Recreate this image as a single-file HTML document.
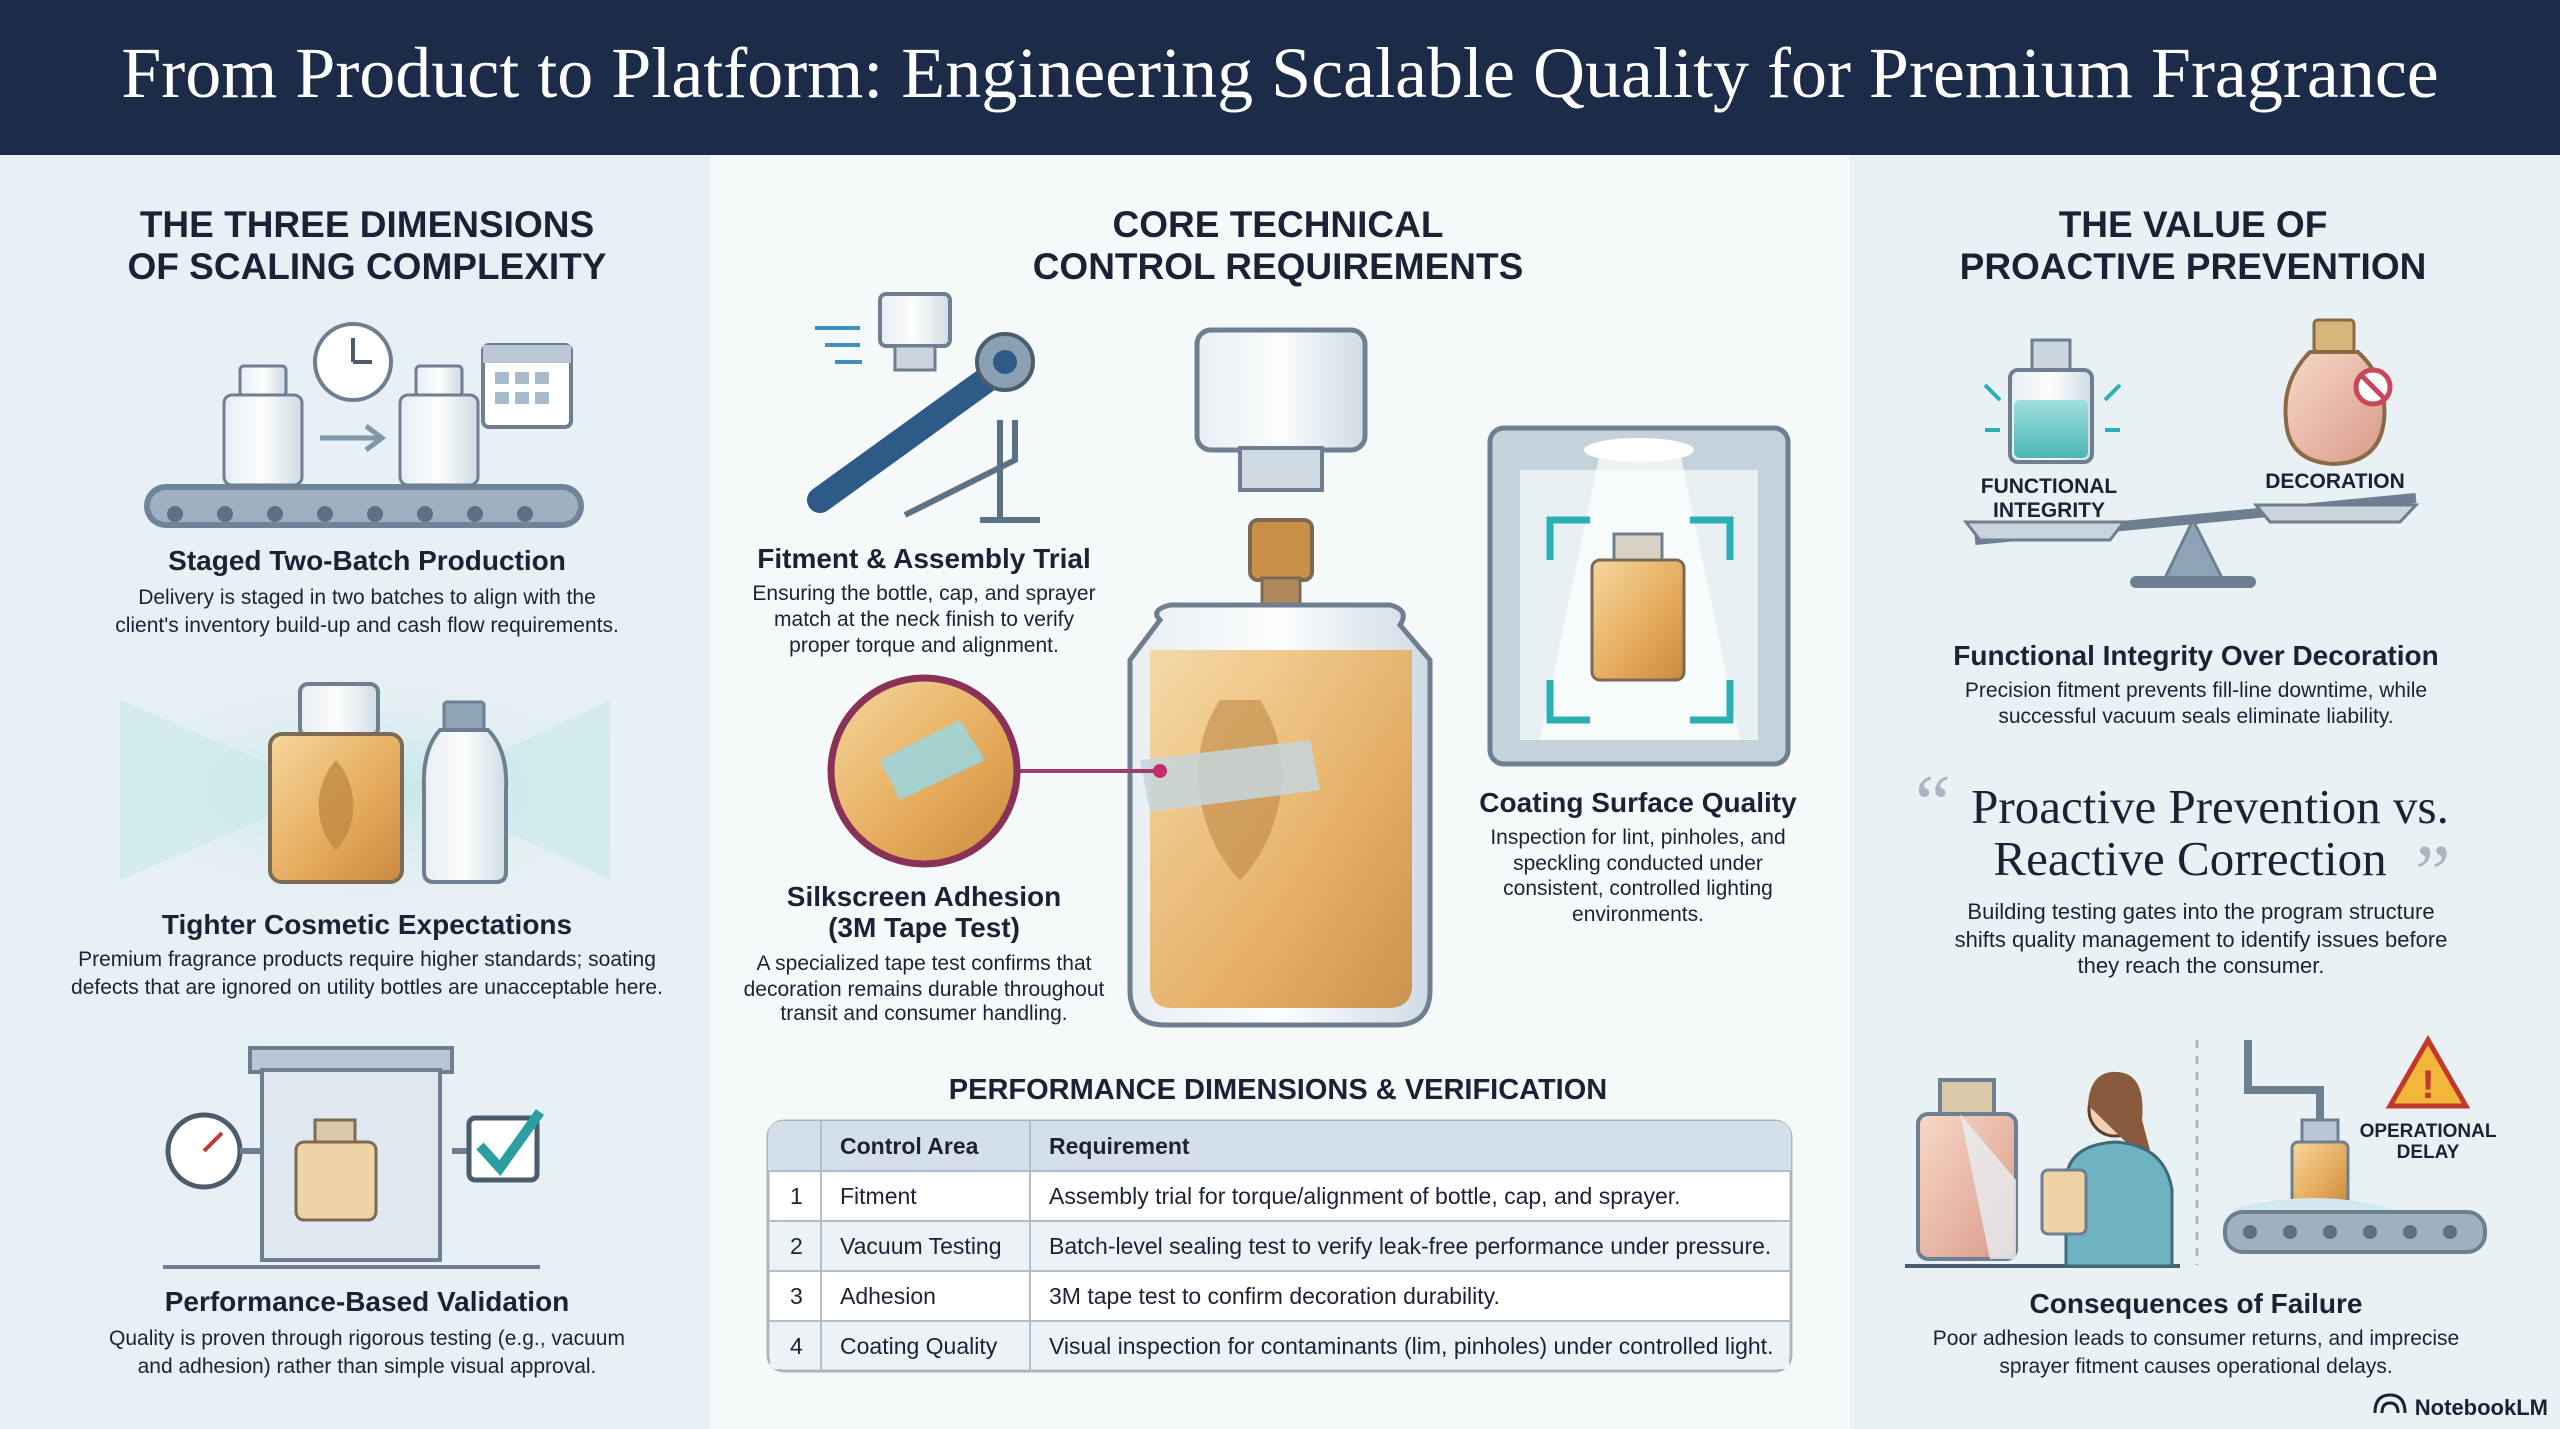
<!DOCTYPE html>
<html><head><meta charset="utf-8"><style>
html,body{margin:0;padding:0;width:2560px;height:1429px;overflow:hidden;background:#eef3f5}
svg{display:block}
.s{font-family:"Liberation Sans",sans-serif}
.r{font-family:"Liberation Serif",serif}
</style></head><body>
<svg width="2560" height="1429" viewBox="0 0 2560 1429" xmlns="http://www.w3.org/2000/svg">
<defs>
<linearGradient id="amb" x1="0" y1="0" x2="1" y2="1"><stop offset="0" stop-color="#f6d79c"/><stop offset="0.6" stop-color="#e4a95a"/><stop offset="1" stop-color="#c98a3e"/></linearGradient>
<linearGradient id="glass" x1="0" y1="0" x2="1" y2="0"><stop offset="0" stop-color="#e8eef2"/><stop offset="0.5" stop-color="#fbfdfe"/><stop offset="1" stop-color="#cfdbe3"/></linearGradient>
<linearGradient id="teal" x1="0" y1="0" x2="0" y2="1"><stop offset="0" stop-color="#9fe0de"/><stop offset="1" stop-color="#4bb6b4"/></linearGradient>
<linearGradient id="pink" x1="0" y1="0" x2="1" y2="1"><stop offset="0" stop-color="#f8d8c8"/><stop offset="1" stop-color="#d99a88"/></linearGradient>
<radialGradient id="rays" cx="0.5" cy="0.5" r="0.5"><stop offset="0" stop-color="#bfe6ea"/><stop offset="1" stop-color="#e6eff3" stop-opacity="0"/></radialGradient>
</defs>
<rect x="0" y="0" width="2560" height="1429" fill="#e7f0f4"/>
<rect x="710" y="155" width="1140" height="1274" fill="#f6f9fa"/>
<rect x="1850" y="155" width="710" height="1274" fill="#eaf1f4"/>
<rect x="0" y="0" width="2560" height="155" fill="#1b2b48"/>
<text x="1280" y="97" text-anchor="middle" class="r" font-size="72" fill="#fff">From Product to Platform: Engineering Scalable Quality for Premium Fragrance</text>

<g class="s" font-weight="bold" font-size="37" fill="#1b2236" text-anchor="middle">
<text x="367" y="237">THE THREE DIMENSIONS</text><text x="367" y="279">OF SCALING COMPLEXITY</text>
<text x="1278" y="237">CORE TECHNICAL</text><text x="1278" y="279">CONTROL REQUIREMENTS</text>
<text x="2193" y="237">THE VALUE OF</text><text x="2193" y="279">PROACTIVE PREVENTION</text>
</g>

<rect x="144" y="484" width="440" height="44" rx="22" fill="#6f8498"/>
<rect x="150" y="490" width="428" height="32" rx="16" fill="#9fb1c1"/>
<g fill="#5d7186"><circle cx="175" cy="514" r="8"/><circle cx="225" cy="514" r="8"/><circle cx="275" cy="514" r="8"/><circle cx="325" cy="514" r="8"/><circle cx="375" cy="514" r="8"/><circle cx="425" cy="514" r="8"/><circle cx="475" cy="514" r="8"/><circle cx="525" cy="514" r="8"/></g>
<rect x="240" y="366" width="46" height="30" rx="4" fill="url(#glass)" stroke="#6d7f90" stroke-width="3"/>
<rect x="224" y="395" width="78" height="90" rx="8" fill="url(#glass)" stroke="#6d7f90" stroke-width="3"/>
<rect x="416" y="366" width="46" height="30" rx="4" fill="url(#glass)" stroke="#6d7f90" stroke-width="3"/>
<rect x="400" y="395" width="78" height="90" rx="8" fill="url(#glass)" stroke="#6d7f90" stroke-width="3"/>
<path d="M320 438 H380 M366 426 L382 438 L366 450" stroke="#8097aa" stroke-width="5" fill="none"/>
<circle cx="353" cy="362" r="38" fill="#fff" stroke="#6d7f90" stroke-width="4"/>
<path d="M353 362 V338 M353 362 H372" stroke="#4b5c6d" stroke-width="4"/>
<rect x="483" y="345" width="88" height="82" rx="6" fill="#fff" stroke="#6d7f90" stroke-width="4"/>
<rect x="483" y="345" width="88" height="18" fill="#b9c8d4"/>
<g fill="#a9bccb"><rect x="495" y="372" width="14" height="12"/><rect x="515" y="372" width="14" height="12"/><rect x="535" y="372" width="14" height="12"/><rect x="495" y="392" width="14" height="12"/><rect x="515" y="392" width="14" height="12"/><rect x="535" y="392" width="14" height="12"/></g>

<ellipse cx="367" cy="790" rx="300" ry="130" fill="url(#rays)"/>
<path d="M120 700 L330 790 L120 880 Z M610 700 L420 790 L610 880Z" fill="#c6e8ea" opacity="0.6"/>
<rect x="300" y="684" width="78" height="52" rx="8" fill="url(#glass)" stroke="#6d7f90" stroke-width="4"/>
<rect x="270" y="734" width="132" height="148" rx="12" fill="url(#amb)" stroke="#7d6a55" stroke-width="4"/>
<path d="M336 760 C310 790 316 830 336 850 C356 830 362 790 336 760Z" fill="#b9843f" opacity="0.7"/>
<rect x="444" y="702" width="40" height="28" rx="3" fill="#8ea4b6" stroke="#6d7f90" stroke-width="3"/>
<path d="M440 730 H488 Q508 750 506 790 V872 Q506 882 496 882 H434 Q424 882 424 872 V790 Q422 750 440 730Z" fill="url(#glass)" stroke="#6d7f90" stroke-width="4"/>

<rect x="250" y="1048" width="202" height="24" fill="#b8c7d3" stroke="#6d7f90" stroke-width="4"/>
<rect x="262" y="1070" width="178" height="190" fill="#dfe8ee" stroke="#6d7f90" stroke-width="4"/>
<rect x="315" y="1120" width="40" height="24" fill="#d9c9a8" stroke="#7d6a55" stroke-width="3"/>
<rect x="296" y="1142" width="80" height="78" rx="8" fill="#efd3a4" stroke="#7d6a55" stroke-width="3"/>
<line x1="163" y1="1267" x2="540" y2="1267" stroke="#6d7f90" stroke-width="4"/>
<circle cx="204" cy="1151" r="36" fill="#fff" stroke="#4b5c6d" stroke-width="5"/>
<path d="M204 1151 L222 1133" stroke="#c03a3a" stroke-width="4"/>
<path d="M240 1151 H262 M452 1151 H470" stroke="#6d7f90" stroke-width="6"/>
<rect x="469" y="1118" width="68" height="62" rx="6" fill="#fff" stroke="#4b5c6d" stroke-width="5"/>
<path d="M480 1146 L500 1168 L540 1112" stroke="#2a9ea0" stroke-width="10" fill="none"/>

<g class="s" text-anchor="middle" fill="#1b2236">
<text x="367" y="570" font-size="28" font-weight="bold">Staged Two-Batch Production</text>
<text x="367" y="604" font-size="21">Delivery is staged in two batches to align with the</text>
<text x="367" y="632" font-size="21">client's inventory build-up and cash flow requirements.</text>
<text x="367" y="934" font-size="28" font-weight="bold">Tighter Cosmetic Expectations</text>
<text x="367" y="966" font-size="21">Premium fragrance products require higher standards; soating</text>
<text x="367" y="994" font-size="21">defects that are ignored on utility bottles are unacceptable here.</text>
<text x="367" y="1311" font-size="28" font-weight="bold">Performance-Based Validation</text>
<text x="367" y="1345" font-size="21">Quality is proven through rigorous testing (e.g., vacuum</text>
<text x="367" y="1373" font-size="21">and adhesion) rather than simple visual approval.</text>
</g>

<rect x="880" y="294" width="70" height="52" rx="6" fill="url(#glass)" stroke="#6d7f90" stroke-width="4"/>
<rect x="895" y="346" width="40" height="24" fill="#c9d4dd" stroke="#6d7f90" stroke-width="3"/>
<path d="M815 328 H860 M825 345 H860 M835 362 H862" stroke="#3f8fc0" stroke-width="4"/>
<path d="M820 500 L1000 370" stroke="#2d5a86" stroke-width="26" stroke-linecap="round"/>
<circle cx="1005" cy="362" r="28" fill="#8aa0b3" stroke="#4b5c6d" stroke-width="4"/>
<circle cx="1005" cy="362" r="12" fill="#2d5a86"/>
<path d="M905 515 L1015 460 L1015 420 M1000 420 V520 M980 520 H1040" stroke="#5d7186" stroke-width="6" fill="none"/>

<rect x="1197" y="330" width="168" height="120" rx="14" fill="url(#glass)" stroke="#6d7f90" stroke-width="5"/>
<rect x="1240" y="448" width="82" height="42" fill="#d0dae2" stroke="#6d7f90" stroke-width="4"/>
<rect x="1250" y="520" width="62" height="60" rx="8" fill="#c9904a" stroke="#7d6a55" stroke-width="4"/>
<rect x="1262" y="578" width="38" height="30" fill="#b08a5a" stroke="#7d6a55" stroke-width="3"/>
<path d="M1160 620 Q1150 610 1170 605 H1390 Q1410 610 1400 625 L1430 660 V990 Q1430 1025 1395 1025 H1165 Q1130 1025 1130 990 V660 Z" fill="url(#glass)" stroke="#6d7f90" stroke-width="5"/>
<path d="M1150 650 H1412 V985 Q1412 1008 1388 1008 H1172 Q1150 1008 1150 985Z" fill="url(#amb)" opacity="0.9"/>
<path d="M1220 700 C1180 760 1200 840 1240 880 C1280 840 1300 760 1260 700Z" fill="#b9843f" opacity="0.55"/>
<path d="M1140 760 L1310 740 L1320 790 L1150 812Z" fill="#c6d6dc" opacity="0.85"/>
<rect x="1490" y="428" width="298" height="336" rx="14" fill="#c4d2dc" stroke="#6d7f90" stroke-width="5"/>
<rect x="1520" y="470" width="238" height="270" fill="#e8f0f4"/>
<ellipse cx="1639" cy="450" rx="55" ry="12" fill="#fff"/>
<path d="M1600 452 L1540 740 H1740 L1680 452Z" fill="#fff" opacity="0.7"/>
<path d="M1550 560 V520 H1590 M1690 520 H1730 V560 M1730 680 V720 H1690 M1590 720 H1550 V680" stroke="#2ab0b3" stroke-width="7" fill="none"/>
<rect x="1614" y="534" width="48" height="26" fill="#d9d2c4" stroke="#6d7f90" stroke-width="3"/>
<rect x="1592" y="560" width="92" height="120" rx="8" fill="url(#amb)" stroke="#7d6a55" stroke-width="3"/>
<line x1="1020" y1="771" x2="1160" y2="771" stroke="#a33a6a" stroke-width="4"/>
<circle cx="1160" cy="771" r="7" fill="#c0306a"/>
<circle cx="924" cy="771" r="93" fill="url(#amb)" stroke="#8a3158" stroke-width="7"/>
<path d="M880 760 L960 720 L985 760 L900 800Z" fill="#9fd4da" opacity="0.9"/>

<g class="s" text-anchor="middle" fill="#1b2236">
<text x="924" y="568" font-size="28" font-weight="bold">Fitment &amp; Assembly Trial</text>
<text x="924" y="600" font-size="21">Ensuring the bottle, cap, and sprayer</text>
<text x="924" y="626" font-size="21">match at the neck finish to verify</text>
<text x="924" y="652" font-size="21">proper torque and alignment.</text>
<text x="924" y="906" font-size="28" font-weight="bold">Silkscreen Adhesion</text>
<text x="924" y="937" font-size="28" font-weight="bold">(3M Tape Test)</text>
<text x="924" y="970" font-size="21">A specialized tape test confirms that</text>
<text x="924" y="996" font-size="21">decoration remains durable throughout</text>
<text x="924" y="1020" font-size="21">transit and consumer handling.</text>
<text x="1638" y="812" font-size="28" font-weight="bold">Coating Surface Quality</text>
<text x="1638" y="844" font-size="21">Inspection for lint, pinholes, and</text>
<text x="1638" y="870" font-size="21">speckling conducted under</text>
<text x="1638" y="895" font-size="21">consistent, controlled lighting</text>
<text x="1638" y="921" font-size="21">environments.</text>
<text x="1278" y="1099" font-size="29" font-weight="bold">PERFORMANCE DIMENSIONS &amp; VERIFICATION</text>
</g>

<rect x="768" y="1121" width="1023" height="250" rx="16" fill="#fff" stroke="#a9b6c1" stroke-width="3"/>
<path d="M768 1171 V1137 Q768 1121 784 1121 H1775 Q1791 1121 1791 1137 V1171Z" fill="#d3e0e9"/>
<rect x="770" y="1221" width="1019" height="50" fill="#ecf2f6"/>
<rect x="770" y="1321" width="1019" height="48" fill="#ecf2f6"/>
<g stroke="#b2bfca" stroke-width="2"><line x1="768" y1="1171" x2="1791" y2="1171"/><line x1="768" y1="1221" x2="1791" y2="1221"/><line x1="768" y1="1271" x2="1791" y2="1271"/><line x1="768" y1="1321" x2="1791" y2="1321"/><line x1="821" y1="1121" x2="821" y2="1371"/><line x1="1030" y1="1121" x2="1030" y2="1371"/></g>
<g class="s" font-size="23" fill="#1b2236">
<text x="840" y="1154" font-weight="bold">Control Area</text><text x="1049" y="1154" font-weight="bold">Requirement</text>
<text x="790" y="1204">1</text><text x="840" y="1204">Fitment</text><text x="1049" y="1204">Assembly trial for torque/alignment of bottle, cap, and sprayer.</text>
<text x="790" y="1254">2</text><text x="840" y="1254">Vacuum Testing</text><text x="1049" y="1254">Batch-level sealing test to verify leak-free performance under pressure.</text>
<text x="790" y="1304">3</text><text x="840" y="1304">Adhesion</text><text x="1049" y="1304">3M tape test to confirm decoration durability.</text>
<text x="790" y="1354">4</text><text x="840" y="1354">Coating Quality</text><text x="1049" y="1354">Visual inspection for contaminants (lim, pinholes) under controlled light.</text>
</g>

<path d="M1975 540 L2416 498" stroke="#6d7f90" stroke-width="10"/>
<path d="M2193 520 L2165 578 H2222Z" fill="#8ea4b6" stroke="#6d7f90" stroke-width="3"/>
<rect x="2130" y="576" width="126" height="12" rx="6" fill="#6d7f90"/>
<path d="M1966 522 H2124 L2110 540 H1980Z" fill="#c9d4dd" stroke="#6d7f90" stroke-width="3"/>
<path d="M2256 505 H2416 L2400 522 H2270Z" fill="#c9d4dd" stroke="#6d7f90" stroke-width="3"/>
<rect x="2032" y="340" width="38" height="32" fill="#c9d4dd" stroke="#6d7f90" stroke-width="3"/>
<rect x="2010" y="370" width="82" height="92" rx="8" fill="url(#glass)" stroke="#6d7f90" stroke-width="4"/>
<rect x="2014" y="400" width="74" height="58" rx="6" fill="url(#teal)"/>
<path d="M1985 385 L2000 400 M1985 430 L2000 430 M2120 385 L2105 400 M2120 430 L2105 430" stroke="#2ab0b3" stroke-width="4"/>
<rect x="2314" y="320" width="40" height="32" rx="4" fill="#d8b67a" stroke="#8a6b45" stroke-width="3"/>
<path d="M2310 352 H2358 Q2388 380 2384 420 Q2380 462 2334 464 Q2288 462 2286 420 Q2282 380 2310 352Z" fill="url(#pink)" stroke="#8a6b45" stroke-width="4"/>
<circle cx="2373" cy="387" r="17" fill="#fff" stroke="#c8475b" stroke-width="5"/>
<line x1="2362" y1="376" x2="2384" y2="398" stroke="#c8475b" stroke-width="5"/>

<line x1="2197" y1="1040" x2="2197" y2="1265" stroke="#a9b6c1" stroke-width="3" stroke-dasharray="8 8"/>
<rect x="1940" y="1080" width="54" height="36" fill="#d9c9a8" stroke="#6d7f90" stroke-width="4"/>
<rect x="1918" y="1114" width="98" height="145" rx="10" fill="url(#pink)" stroke="#6d7f90" stroke-width="4"/>
<path d="M1960 1114 L2016 1180 V1259 H1990Z" fill="#e9eef2" opacity="0.8"/>
<line x1="1905" y1="1266" x2="2180" y2="1266" stroke="#4b5c6d" stroke-width="4"/>
<circle cx="2115" cy="1110" r="26" fill="#f1cfb5" stroke="#5a3e30" stroke-width="3"/>
<path d="M2088 1105 Q2090 1070 2118 1072 Q2146 1074 2142 1120 L2150 1150 H2134" fill="#8a5a3c"/>
<path d="M2066 1266 V1180 Q2068 1145 2115 1142 Q2165 1145 2172 1190 V1266Z" fill="#6fb2c2" stroke="#3f6a78" stroke-width="3"/>
<rect x="2042" y="1170" width="44" height="64" rx="6" fill="#efd3a4" stroke="#6d7f90" stroke-width="3"/>
<path d="M2248 1040 V1090 H2320 V1120" stroke="#6d7f90" stroke-width="8" fill="none"/>
<rect x="2302" y="1120" width="36" height="24" fill="#b8c7d3" stroke="#6d7f90" stroke-width="3"/>
<rect x="2292" y="1142" width="56" height="66" rx="6" fill="url(#amb)" stroke="#6d7f90" stroke-width="3"/>
<path d="M2230 1210 Q2320 1185 2400 1212 Z" fill="#cfe9ee"/>
<rect x="2225" y="1212" width="260" height="40" rx="18" fill="#9fb1c1" stroke="#6d7f90" stroke-width="4"/>
<g fill="#5d7186"><circle cx="2250" cy="1232" r="7"/><circle cx="2290" cy="1232" r="7"/><circle cx="2330" cy="1232" r="7"/><circle cx="2370" cy="1232" r="7"/><circle cx="2410" cy="1232" r="7"/><circle cx="2450" cy="1232" r="7"/></g>
<path d="M2428 1040 L2466 1106 H2390Z" fill="#f2b63a" stroke="#c0392b" stroke-width="5"/>
<text x="2428" y="1098" text-anchor="middle" class="s" font-size="40" font-weight="bold" fill="#c0392b">!</text>

<g class="s" text-anchor="middle" fill="#1b2236">
<text x="2049" y="493" font-size="21" font-weight="bold">FUNCTIONAL</text>
<text x="2049" y="517" font-size="21" font-weight="bold">INTEGRITY</text>
<text x="2335" y="488" font-size="21" font-weight="bold">DECORATION</text>
<text x="2196" y="665" font-size="28" font-weight="bold">Functional Integrity Over Decoration</text>
<text x="2196" y="697" font-size="21">Precision fitment prevents fill-line downtime, while</text>
<text x="2196" y="723" font-size="21">successful vacuum seals eliminate liability.</text>
<text x="2428" y="1137" font-size="19" font-weight="bold">OPERATIONAL</text>
<text x="2428" y="1158" font-size="19" font-weight="bold">DELAY</text>
<text x="2196" y="1313" font-size="28" font-weight="bold">Consequences of Failure</text>
<text x="2196" y="1345" font-size="21">Poor adhesion leads to consumer returns, and imprecise</text>
<text x="2196" y="1373" font-size="21">sprayer fitment causes operational delays.</text>
<text x="2201" y="919" font-size="22">Building testing gates into the program structure</text>
<text x="2201" y="947" font-size="22">shifts quality management to identify issues before</text>
<text x="2201" y="973" font-size="22">they reach the consumer.</text>
</g>
<g class="r" fill="#1b2236" text-anchor="middle">
<text x="2210" y="823" font-size="49">Proactive Prevention vs.</text>
<text x="2190" y="875" font-size="49">Reactive Correction</text>
</g>
<text x="1915" y="830" class="r" font-size="80" fill="#a9b6c1">“</text>
<text x="2415" y="900" class="r" font-size="80" fill="#a9b6c1">”</text>

<text x="2548" y="1415" text-anchor="end" class="s" font-size="22" font-weight="bold" fill="#1b2236">NotebookLM</text>
<path d="M2375 1413 Q2375 1395 2390 1395 Q2405 1395 2405 1413 M2382 1413 Q2382 1403 2390 1403 Q2398 1403 2398 1413" stroke="#1b2236" stroke-width="3" fill="none"/>
</svg>
</body></html>
